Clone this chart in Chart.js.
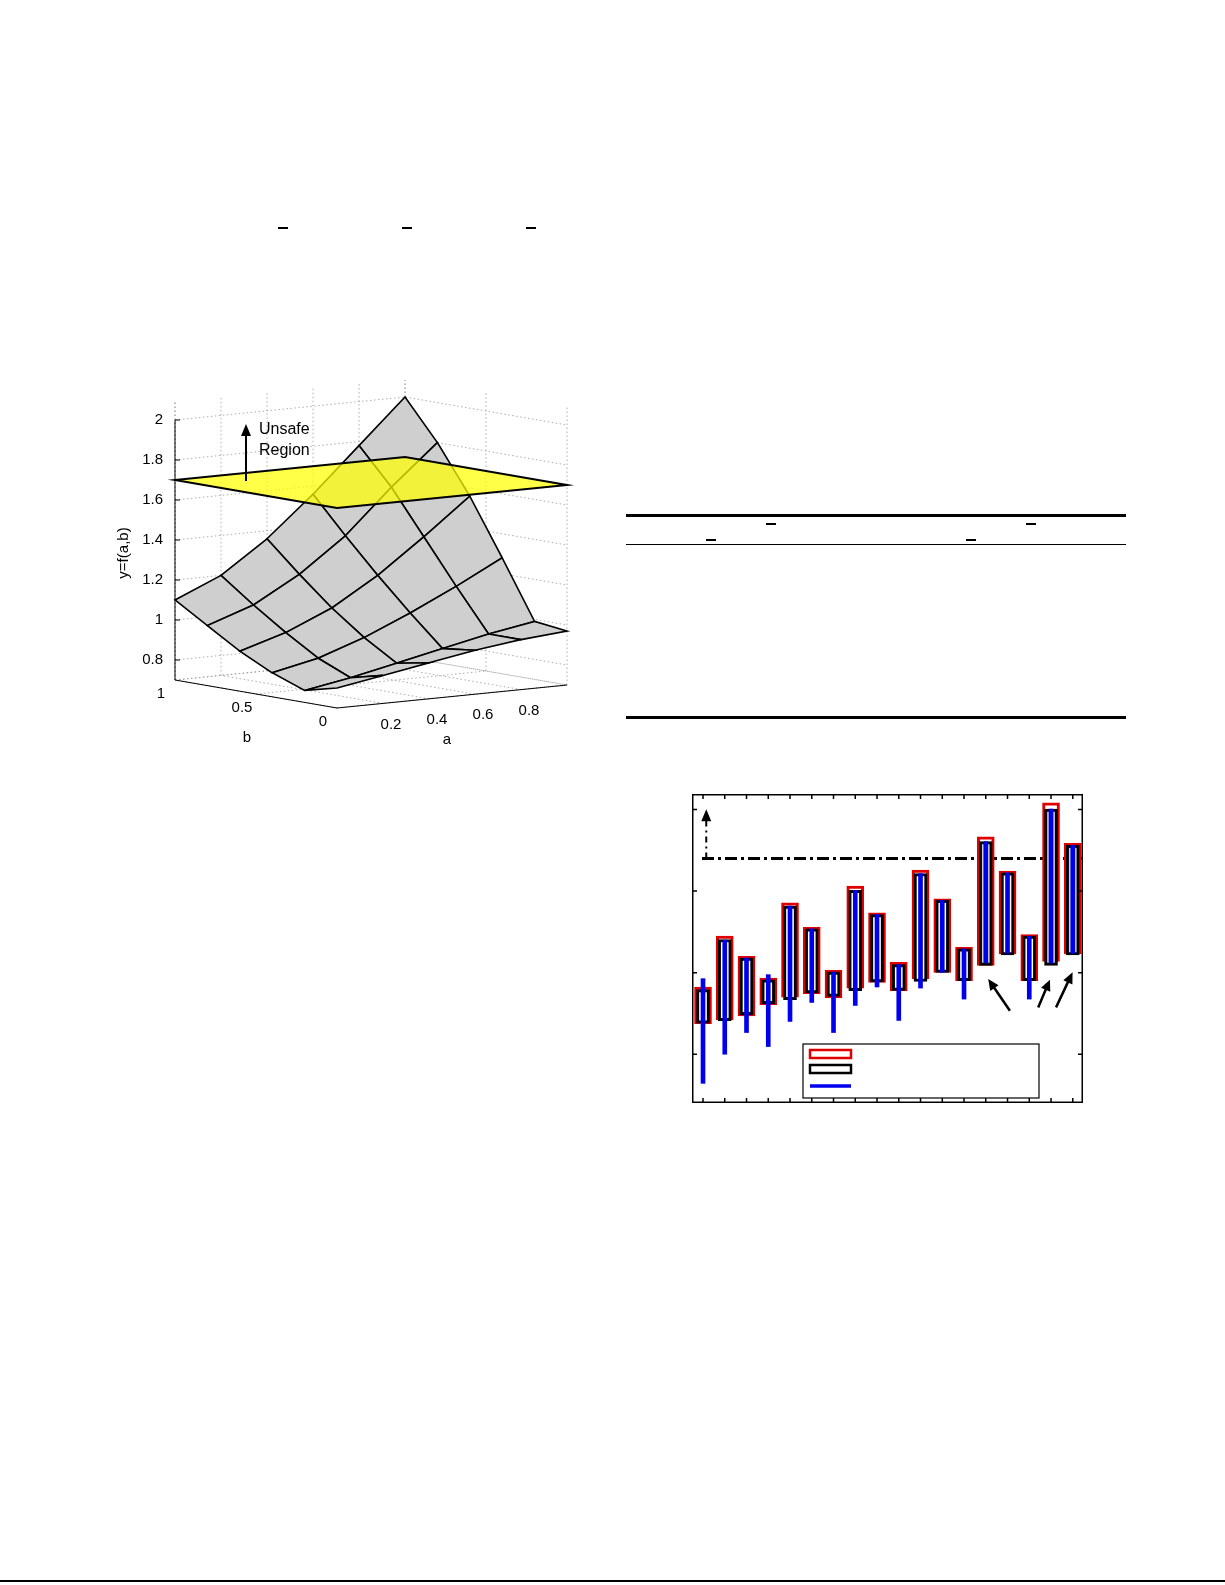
<!DOCTYPE html>
<html><head><meta charset="utf-8">
<script src="https://cdn.jsdelivr.net/npm/chart.js@4.4.0/dist/chart.umd.min.js"></script>
<style>
body{margin:0;background:#fff;width:1225px;height:1585px;position:relative;overflow:hidden;font-family:"Liberation Sans",Arial,sans-serif}
.ln{position:absolute;background:#000}
canvas{position:absolute}
</style></head><body>
<div class="ln" style="left:278px;top:227px;width:10px;height:1.5px"></div>
<div class="ln" style="left:402px;top:227px;width:10px;height:1.5px"></div>
<div class="ln" style="left:526px;top:227px;width:10px;height:1.5px"></div>
<div class="ln" style="left:626px;top:514px;width:500px;height:2.5px"></div>
<div class="ln" style="left:626px;top:544px;width:500px;height:1.2px"></div>
<div class="ln" style="left:626px;top:716px;width:500px;height:2.5px"></div>
<div class="ln" style="left:766px;top:523px;width:10px;height:1.5px"></div>
<div class="ln" style="left:1026px;top:523px;width:10px;height:1.5px"></div>
<div class="ln" style="left:706px;top:539px;width:10px;height:1.5px"></div>
<div class="ln" style="left:966px;top:539px;width:10px;height:1.5px"></div>
<div class="ln" style="left:0;top:1580px;width:1225px;height:2px"></div>
<div style="position:absolute;left:100px;top:380px;width:480px;height:380px"><canvas id="c3d"></canvas></div>
<div style="position:absolute;left:692px;top:794px;width:391px;height:309px"><canvas id="cbar"></canvas></div>
<script>
// ---------- 3D surface data ----------
const gridA = [0, 0.2, 0.4, 0.6, 0.8, 1.0];
const gridB = [0, 0.2, 0.4, 0.6, 0.8, 1.0];
// surfZ[bIndex][aIndex]
const surfZ = [
  [0.80, 0.84, 0.88, 0.92, 0.95, 0.97],
  [0.76, 0.80, 0.85, 0.90, 0.95, 0.99],
  [0.82, 0.87, 0.95, 1.05, 1.16, 1.28],
  [0.90, 0.97, 1.07, 1.21, 1.38, 1.56],
  [1.00, 1.08, 1.21, 1.38, 1.60, 1.80],
  [1.10, 1.20, 1.36, 1.56, 1.78, 2.00]
];
const planeZ = 1.7;
const zTicks = [0.8, 1.0, 1.2, 1.4, 1.6, 1.8, 2.0];
const zTickLabels = ['0.8','1','1.2','1.4','1.6','1.8','2'];
const aTicks = [0.2, 0.4, 0.6, 0.8];
const bTicks = [0, 0.5, 1];
const bTickLabels = ['0','0.5','1'];
const zMin = 0.7, zMax = 2.1;

function proj(a, b, z){ // returns page-space coordinates
  return {x: 337 + a*230 - b*162, y: 708 - a*23 - b*28 - (z - zMin)*200};
}
const plot3d = {
  id:'plot3d',
  afterDraw(ch){
    const c = ch.ctx, xs = ch.scales.x, ys = ch.scales.y;
    const P = (a,b,z)=>{const p=proj(a,b,z);return [xs.getPixelForValue(p.x), ys.getPixelForValue(p.y)];};
    const line=(pts,col,w,dash)=>{c.beginPath();c.strokeStyle=col;c.lineWidth=w;c.setLineDash(dash||[]);pts.forEach((p,i)=>i?c.lineTo(p[0],p[1]):c.moveTo(p[0],p[1]));c.stroke();c.setLineDash([]);};
    c.save();
    const g='#999', d=[1.5,2.5];
    zTicks.concat([zMin]).forEach(z=>{
      line([P(0,1,z),P(1,1,z),P(1,0,z)],g,0.8,d);
    });
    [0,0.2,0.4,0.6,0.8,1].forEach(a=>{line([P(a,1,zMin),P(a,1,zMax)],g,0.8,d);line([P(a,0,zMin),P(a,1,zMin)],g,0.8,d);});
    [0,0.5,1].forEach(b=>{line([P(1,b,zMin),P(1,b,zMax)],g,0.8,d);line([P(0,b,zMin),P(1,b,zMin)],g,0.8,d);});
    line([P(0,1,zMin),P(0,1,zMax)],g,0.8,d);
    line([P(0,1,zMin),P(0,1,2.0)],'#000',1);
    line([P(0,1,zMin),P(0,0,zMin),P(1,0,zMin)],'#000',1);
    c.fillStyle='#000';c.font='15px "Liberation Sans", Arial';c.textAlign='right';c.textBaseline='middle';
    zTicks.forEach((z,i)=>{const p=P(0,1,z);line([p,[p[0]+5,p[1]]],'#000',1);c.fillText(zTickLabels[i],p[0]-12,p[1]);});
    c.textAlign='center';
    aTicks.forEach(a=>{const p=P(a,0,zMin);c.fillText(String(a),p[0]+8,p[1]+21);});
    bTicks.forEach((b,i)=>{const p=P(0,b,zMin);c.fillText(bTickLabels[i],p[0]-14,p[1]+14);});
    c.fillText('a',xs.getPixelForValue(447),ys.getPixelForValue(740));
    c.fillText('b',xs.getPixelForValue(247),ys.getPixelForValue(738));
    c.save();c.translate(xs.getPixelForValue(124),ys.getPixelForValue(553));c.rotate(-Math.PI/2);c.fillText('y=f(a,b)',0,0);c.restore();
    const quads=[];
    for(let j=0;j<gridB.length-1;j++)for(let i=0;i<gridA.length-1;i++)quads.push([i,j]);
    quads.sort((q1,q2)=>(q2[0]+q2[1])-(q1[0]+q1[1]));
    quads.forEach(([i,j])=>{
      const pts=[P(gridA[i],gridB[j],surfZ[j][i]),P(gridA[i+1],gridB[j],surfZ[j][i+1]),P(gridA[i+1],gridB[j+1],surfZ[j+1][i+1]),P(gridA[i],gridB[j+1],surfZ[j+1][i])];
      c.beginPath();pts.forEach((p,k)=>k?c.lineTo(p[0],p[1]):c.moveTo(p[0],p[1]));c.closePath();
      c.fillStyle='#cfcfcf';c.fill();c.strokeStyle='#000';c.lineWidth=1.6;c.stroke();
    });
    const pl=[P(0,0,planeZ),P(1,0,planeZ),P(1,1,planeZ),P(0,1,planeZ)];
    c.beginPath();pl.forEach((p,k)=>k?c.lineTo(p[0],p[1]):c.moveTo(p[0],p[1]));c.closePath();
    c.fillStyle='rgba(255,255,0,0.72)';c.fill();c.strokeStyle='#000';c.lineWidth=2;c.stroke();
    const ax=xs.getPixelForValue(246);
    line([[ax,ys.getPixelForValue(481)],[ax,ys.getPixelForValue(430)]],'#000',2);
    c.beginPath();c.moveTo(ax,ys.getPixelForValue(424));c.lineTo(ax-5,ys.getPixelForValue(436));c.lineTo(ax+5,ys.getPixelForValue(436));c.closePath();c.fillStyle='#000';c.fill();
    c.textAlign='left';c.font='16px "Liberation Sans", Arial';
    c.fillText('Unsafe',xs.getPixelForValue(259),ys.getPixelForValue(430));
    c.fillText('Region',xs.getPixelForValue(259),ys.getPixelForValue(451));
    c.restore();
  }
};
new Chart(document.getElementById('c3d'),{
  type:'scatter',data:{datasets:[{data:[]}]},
  options:{responsive:true,maintainAspectRatio:false,animation:false,events:[],
    layout:{padding:0},plugins:{legend:{display:false},tooltip:{enabled:false}},
    scales:{x:{type:'linear',min:100,max:580,display:false},y:{type:'linear',min:380,max:760,reverse:true,display:false}}},
  plugins:[plot3d]
});

// ---------- interval bar chart data ----------
const positions = [1,2,3,4,5,6,7,8,9,10,11,12,13,14,15,16,17,18];
const redLow  = [0.373,0.422,0.471,0.607,0.700,0.742,0.690,0.811,0.881,0.779,0.922,1.004,0.902,1.090,1.230,0.902,1.139,1.230];
const redHigh = [0.824,1.447,1.201,0.934,1.855,1.557,1.029,2.061,1.734,1.127,2.258,1.906,1.311,2.664,2.246,1.467,3.082,2.586];
const blackLow  = [0.381,0.410,0.484,0.619,0.668,0.750,0.709,0.779,0.885,0.783,0.893,1.004,0.902,1.090,1.218,0.902,1.090,1.218];
const blackHigh = [0.791,1.406,1.180,0.912,1.816,1.537,1.008,2.008,1.713,1.098,2.213,1.885,1.291,2.607,2.225,1.447,3.004,2.561];
const blueLow  = [-0.357,0.000,0.266,0.094,0.402,0.635,0.266,0.598,0.824,0.414,0.811,1.004,0.676,1.119,1.238,0.676,1.119,1.238];
const blueHigh = [0.926,1.398,1.180,0.975,1.816,1.537,1.008,2.008,1.713,1.098,2.213,1.885,1.291,2.607,2.225,1.447,3.004,2.561];
const shaded = [14,17,18];
const threshold = 2.40;
const yTicks = [0,1,2,3];
const arrows = [[15.11,0.533,14.11,0.922],[16.41,0.574,16.95,0.914],[17.23,0.574,17.99,1.004]];
const upArrow = [1.15, 2.40, 2.98];

const mk=(lo,hi)=>positions.map((x,i)=>({x,y:[lo[i],hi[i]]}));
const barPlug={
  id:'barPlug',
  beforeDatasetsDraw(ch){
    const c=ch.ctx,xs=ch.scales.x,ys=ch.scales.y,ca=ch.chartArea;
    c.save();c.strokeStyle='#000';c.lineWidth=3;c.setLineDash([12,4,3,4]);
    c.beginPath();c.moveTo(ca.left+10,ys.getPixelForValue(threshold));c.lineTo(ca.right,ys.getPixelForValue(threshold));c.stroke();
    const ux=xs.getPixelForValue(upArrow[0]);
    c.lineWidth=2;c.setLineDash([6,4,2,4]);c.beginPath();c.moveTo(ux,ys.getPixelForValue(upArrow[1]));c.lineTo(ux,ys.getPixelForValue(upArrow[2])+8);c.stroke();
    c.setLineDash([]);c.fillStyle='#000';c.beginPath();const uy=ys.getPixelForValue(upArrow[2]);
    c.moveTo(ux,uy-2);c.lineTo(ux-5,uy+10);c.lineTo(ux+5,uy+10);c.closePath();c.fill();
    c.restore();
  },
  afterDraw(ch){
    const c=ch.ctx,xs=ch.scales.x,ys=ch.scales.y,ca=ch.chartArea;
    c.save();c.strokeStyle='#000';c.lineWidth=1.5;
    c.strokeRect(ca.left+0.75,ca.top+0.75,ca.width-1.5,ca.height-1.5);
    c.beginPath();
    positions.forEach(x=>{const px=xs.getPixelForValue(x);c.moveTo(px,ca.top);c.lineTo(px,ca.top+5);c.moveTo(px,ca.bottom);c.lineTo(px,ca.bottom-5);});
    yTicks.forEach(v=>{const py=ys.getPixelForValue(v);c.moveTo(ca.left,py);c.lineTo(ca.left+5,py);c.moveTo(ca.right,py);c.lineTo(ca.right-5,py);});
    c.stroke();
    c.lineWidth=2.5;c.fillStyle='#000';
    arrows.forEach(([x1,y1,x2,y2])=>{
      const a=[xs.getPixelForValue(x1),ys.getPixelForValue(y1)],b=[xs.getPixelForValue(x2),ys.getPixelForValue(y2)];
      const ang=Math.atan2(b[1]-a[1],b[0]-a[0]);
      c.beginPath();c.moveTo(a[0],a[1]);c.lineTo(b[0]-7*Math.cos(ang),b[1]-7*Math.sin(ang));c.stroke();
      c.beginPath();c.moveTo(b[0],b[1]);
      c.lineTo(b[0]-11*Math.cos(ang)+5*Math.sin(ang),b[1]-11*Math.sin(ang)-5*Math.cos(ang));
      c.lineTo(b[0]-11*Math.cos(ang)-5*Math.sin(ang),b[1]-11*Math.sin(ang)+5*Math.cos(ang));
      c.closePath();c.fill();
    });
    const lx=ca.left+111,ly=ca.top+250;
    c.fillStyle='#fff';c.fillRect(lx,ly,236,ca.bottom-5-ly);
    c.lineWidth=1.2;c.strokeStyle='#000';c.strokeRect(lx,ly,236,ca.bottom-5-ly);
    c.lineWidth=2.5;c.strokeStyle='#e00000';c.strokeRect(lx+7,ly+6,41,8);
    c.strokeStyle='#000';c.strokeRect(lx+7,ly+21,41,8);
    c.strokeStyle='#0000ee';c.lineWidth=3.5;c.beginPath();c.moveTo(lx+7,ly+42);c.lineTo(lx+48,ly+42);c.stroke();
    c.restore();
  }
};
new Chart(document.getElementById('cbar'),{
  type:'bar',
  data:{datasets:[
    {data:mk(redLow,redHigh),backgroundColor:'#fff',borderColor:'#e00000',borderWidth:3,borderSkipped:false,barThickness:17,grouped:false,order:3},
    {data:mk(blackLow,blackHigh),backgroundColor:positions.map(p=>shaded.includes(p)?'#d2d2d2':'#fff'),borderColor:'#000',borderWidth:3,borderSkipped:false,barThickness:13,grouped:false,order:2},
    {data:mk(blueLow,blueHigh),backgroundColor:'#0000ee',borderWidth:0,barThickness:4,grouped:false,order:1}
  ]},
  options:{responsive:true,maintainAspectRatio:false,animation:false,events:[],layout:{padding:0},
    plugins:{legend:{display:false},tooltip:{enabled:false}},
    scales:{x:{type:'linear',min:0.494,max:18.47,offset:false,display:false},y:{min:-0.598,max:3.19,display:false}}},
  plugins:[barPlug]
});
</script>
</body></html>
